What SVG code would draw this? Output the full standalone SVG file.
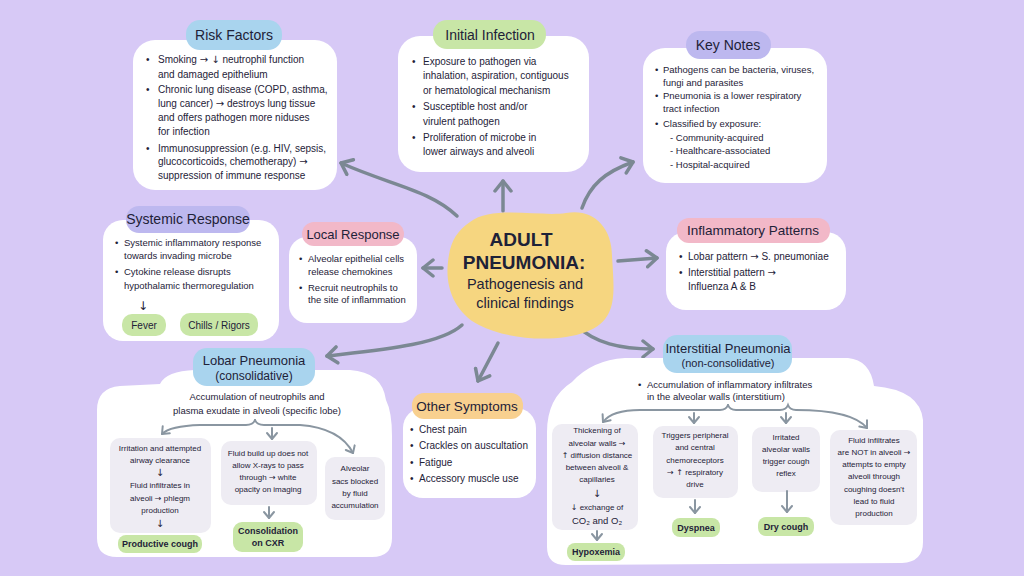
<svg xmlns="http://www.w3.org/2000/svg" width="1024" height="576" viewBox="0 0 1024 576">
<style>
text{font-family:"Liberation Sans","DejaVu Sans",sans-serif;fill:#1e2238}
.ar{font-family:"DejaVu Sans",sans-serif;fill:#1e2238}
.b{font-size:10px}
.s{font-size:8px;text-anchor:middle}
.h{font-size:14px;text-anchor:middle}
.m{text-anchor:middle}
.box{fill:#ffffff}
.in{fill:#eeecf3}
.blue{fill:#a9d4ee}
.green{fill:#c8e6a6}
.lav{fill:#bdb8ef}
.pink{fill:#f2b8c8}
.orange{fill:#f8d08f}
.pill{font-size:9px;font-weight:bold;text-anchor:middle}
.conn{fill:none;stroke:#7b8893;stroke-width:3.5;stroke-linecap:round}
.sub{fill:none;stroke:#8a96a1;stroke-width:2;stroke-linecap:round}
</style>
<defs>
<marker id="ah" markerUnits="userSpaceOnUse" markerWidth="20" markerHeight="20" viewBox="-12 -10 20 20" refX="0" refY="0" orient="auto">
<polyline points="-10,-8 0,0 -10,8" fill="none" stroke="#7b8893" stroke-width="3.5" stroke-linecap="round" stroke-linejoin="round"/>
</marker>
<marker id="sh" markerUnits="userSpaceOnUse" markerWidth="14" markerHeight="14" viewBox="-8 -7 14 14" refX="0" refY="0" orient="auto">
<polyline points="-6,-5 0,0 -6,5" fill="none" stroke="#8a96a1" stroke-width="2" stroke-linecap="round" stroke-linejoin="round"/>
</marker>
</defs>
<rect width="1024" height="576" fill="#d7c9f6"/>

<g id="connectors">
<path class="conn" d="M457,216 C430,190 390,185 341,163" marker-end="url(#ah)"/>
<path class="conn" d="M503,211 L503,181" marker-end="url(#ah)"/>
<path class="conn" d="M582,208 C590,185 605,172 633,162" marker-end="url(#ah)"/>
<path class="conn" d="M442,268 L423,268" marker-end="url(#ah)"/>
<path class="conn" d="M618,261 L657,258" marker-end="url(#ah)"/>
<path class="conn" d="M462,325 C440,345 380,350 327,356" marker-end="url(#ah)"/>
<path class="conn" d="M498,343 L478,381" marker-end="url(#ah)"/>
<path class="conn" d="M577,326 C595,343 620,349 653,349" marker-end="url(#ah)"/>
</g>

<g id="risk-factors">
<rect class="box" x="133" y="40" width="204" height="150" rx="22"/>
<rect class="blue" x="186" y="20" width="96" height="30" rx="14"/>
<text class="h" x="234" y="40">Risk Factors</text>
<text class="b"><tspan x="146" y="63">•</tspan><tspan x="158" y="63">Smoking <tspan class="ar">→ ↓</tspan> neutrophil function</tspan><tspan x="158" y="78">and damaged epithelium</tspan><tspan x="146" y="93">•</tspan><tspan x="158" y="93">Chronic lung disease (COPD, asthma,</tspan><tspan x="158" y="107">lung cancer) <tspan class="ar">→</tspan> destroys lung tissue</tspan><tspan x="158" y="121">and offers pathogen more niduses</tspan><tspan x="158" y="135">for infection</tspan><tspan x="146" y="152">•</tspan><tspan x="158" y="152">Immunosuppression (e.g. HIV, sepsis,</tspan><tspan x="158" y="165">glucocorticoids, chemotherapy) <tspan class="ar">→</tspan></tspan><tspan x="158" y="179">suppression of immune response</tspan></text>
</g>

<g id="initial-infection">
<rect class="box" x="398" y="36" width="191" height="136" rx="22"/>
<rect class="green" x="433" y="20" width="113" height="29" rx="14"/>
<text class="h" x="490" y="40">Initial Infection</text>
<text class="b"><tspan x="412" y="65">•</tspan><tspan x="423" y="65">Exposure to pathogen via</tspan><tspan x="423" y="79">inhalation, aspiration, contiguous</tspan><tspan x="423" y="94">or hematological mechanism</tspan><tspan x="412" y="110">•</tspan><tspan x="423" y="110">Susceptible host and/or</tspan><tspan x="423" y="125">virulent pathogen</tspan><tspan x="412" y="141">•</tspan><tspan x="423" y="141">Proliferation of microbe in</tspan><tspan x="423" y="155">lower airways and alveoli</tspan></text>
</g>

<g id="key-notes">
<rect class="box" x="643" y="48" width="184" height="135" rx="22"/>
<rect class="lav" x="686" y="31" width="85" height="28" rx="14"/>
<text class="h" x="728" y="50">Key Notes</text>
<text class="b" style="font-size:9.5px"><tspan x="655" y="73">•</tspan><tspan x="663" y="73">Pathogens can be bacteria, viruses,</tspan><tspan x="663" y="86">fungi and parasites</tspan><tspan x="655" y="99">•</tspan><tspan x="663" y="99">Pneumonia is a lower respiratory</tspan><tspan x="663" y="112">tract infection</tspan><tspan x="655" y="127">•</tspan><tspan x="663" y="127">Classified by exposure:</tspan><tspan x="670" y="141">- Community-acquired</tspan><tspan x="670" y="154">- Healthcare-associated</tspan><tspan x="670" y="168">- Hospital-acquired</tspan></text>
</g>

<g id="systemic-response">
<rect class="box" x="103" y="220" width="176" height="121" rx="20"/>
<rect class="lav" x="126" y="206" width="124" height="27" rx="13"/>
<text class="h" x="188" y="224">Systemic Response</text>
<text class="b" style="font-size:9.5px"><tspan x="115" y="246">•</tspan><tspan x="124" y="246">Systemic inflammatory response</tspan><tspan x="124" y="259">towards invading microbe</tspan><tspan x="115" y="275">•</tspan><tspan x="124" y="275">Cytokine release disrupts</tspan><tspan x="124" y="289">hypothalamic thermoregulation</tspan></text>
<text x="143" y="310" style="font-size:12px" class="m ar">↓</text>
<rect class="green" x="122" y="314" width="44" height="22" rx="10"/>
<text x="144" y="329" class="m" style="font-size:10px">Fever</text>
<rect class="green" x="180" y="313" width="78" height="23" rx="10"/>
<text x="219" y="329" class="m" style="font-size:10px">Chills / Rigors</text>
</g>

<g id="local-response">
<rect class="box" x="289" y="237" width="128" height="86" rx="18"/>
<rect class="pink" x="302" y="222" width="102" height="24" rx="12"/>
<text class="h" x="353" y="239" style="font-size:13px">Local Response</text>
<text class="b" style="font-size:9.5px"><tspan x="299" y="262">•</tspan><tspan x="308" y="262">Alveolar epithelial cells</tspan><tspan x="308" y="275">release chemokines</tspan><tspan x="299" y="291">•</tspan><tspan x="308" y="291">Recruit neutrophils to</tspan><tspan x="308" y="303">the site of inflammation</tspan></text>
</g>

<g id="center">
<path d="M470,222 C492,205 540,217 566,213 C592,208 612,226 612,256 C614,292 619,320 586,332 C556,343 508,340 479,325 C454,312 445,286 448,262 C450,242 456,232 470,222 Z" fill="#f6d680"/>
<text class="m" x="521" y="246" style="font-size:19px;font-weight:bold">ADULT</text>
<text class="m" x="524" y="269" style="font-size:19px;font-weight:bold">PNEUMONIA:</text>
<text class="m" x="525" y="289" style="font-size:14.5px">Pathogenesis and</text>
<text class="m" x="525" y="308" style="font-size:14.5px">clinical findings</text>
</g>

<g id="inflammatory-patterns">
<rect class="box" x="666" y="232" width="180" height="78" rx="20"/>
<rect class="pink" x="677" y="218" width="153" height="25" rx="12"/>
<text class="h" x="753" y="235" style="font-size:13.5px">Inflammatory Patterns</text>
<text class="b"><tspan x="679" y="260">•</tspan><tspan x="688" y="260">Lobar pattern <tspan class="ar">→</tspan> S. pneumoniae</tspan><tspan x="679" y="276">•</tspan><tspan x="688" y="276">Interstitial pattern <tspan class="ar">→</tspan></tspan><tspan x="688" y="290">Influenza A &amp; B</tspan></text>
</g>

<g id="lobar-pneumonia">
<path class="box" d="M97,410 Q97,388 120,386 L160,384 Q166,371 195,370 L350,370 Q382,372 386,400 Q392,412 392,436 L392,538 Q392,557 372,557 L117,557 Q97,557 97,538 Z"/>
<rect class="blue" x="193" y="348" width="122" height="38" rx="14"/>
<text class="h" x="254" y="365" style="font-size:13px">Lobar Pneumonia</text>
<text class="h" x="254" y="380" style="font-size:12px">(consolidative)</text>
<text class="m" style="font-size:9.5px"><tspan x="257" y="400">Accumulation of neutrophils and</tspan><tspan x="257" y="414">plasma exudate in alveoli (specific lobe)</tspan></text>
<path class="sub" d="M255,420 Q253,425 246,425 L200,425 Q170,426 162,434" marker-end="url(#sh)"/>
<path class="sub" d="M255,420 Q257,425 264,425 L300,425 Q340,428 353,453" marker-end="url(#sh)"/>
<path class="sub" d="M272,428 L272,439" marker-end="url(#sh)"/>
<rect class="in" x="110" y="438" width="101" height="95" rx="10"/>
<text class="s"><tspan x="160" y="451">Irritation and attempted</tspan><tspan x="160" y="463">airway clearance</tspan><tspan x="160" y="476" class="ar" style="font-size:10px">↓</tspan><tspan x="160" y="488">Fluid infiltrates in</tspan><tspan x="160" y="501">alveoli <tspan class="ar">→</tspan> phlegm</tspan><tspan x="160" y="513">production</tspan><tspan x="160" y="527" class="ar" style="font-size:10px">↓</tspan></text>
<rect class="green" x="118" y="535" width="84" height="18" rx="8"/>
<text class="pill" x="160" y="547">Productive cough</text>
<rect class="in" x="221" y="441" width="96" height="64" rx="10"/>
<text class="s"><tspan x="268" y="456">Fluid build up does not</tspan><tspan x="268" y="468">allow X-rays to pass</tspan><tspan x="268" y="480">through <tspan class="ar">→</tspan> white</tspan><tspan x="268" y="492">opacity on imaging</tspan></text>
<path class="sub" d="M269,507 L269,518" marker-end="url(#sh)"/>
<rect class="green" x="233" y="522" width="70" height="30" rx="9"/>
<text class="pill" x="268" y="534">Consolidation</text>
<text class="pill" x="268" y="546">on CXR</text>
<rect class="in" x="325" y="457" width="60" height="63" rx="10"/>
<text class="s"><tspan x="355" y="471">Alveolar</tspan><tspan x="355" y="484">sacs blocked</tspan><tspan x="355" y="496">by fluid</tspan><tspan x="355" y="508">accumulation</tspan></text>
</g>

<g id="other-symptoms">
<rect class="box" x="403" y="408" width="133" height="90" rx="20"/>
<rect class="orange" x="412" y="393" width="111" height="26" rx="12"/>
<text class="h" x="467" y="411" style="font-size:13.5px">Other Symptoms</text>
<text class="b"><tspan x="410" y="433">•</tspan><tspan x="419" y="433">Chest pain</tspan><tspan x="410" y="449">•</tspan><tspan x="419" y="449">Crackles on auscultation</tspan><tspan x="410" y="466">•</tspan><tspan x="419" y="466">Fatigue</tspan><tspan x="410" y="482">•</tspan><tspan x="419" y="482">Accessory muscle use</tspan></text>
</g>

<g id="interstitial-pneumonia">
<path class="box" d="M547,432 Q547,398 572,382 Q592,360 625,358 L848,358 Q870,360 874,386 Q920,390 923,420 L923,542 Q923,562 902,563 L566,565 Q547,565 547,547 Z"/>
<rect class="blue" x="663" y="335" width="129" height="38" rx="14"/>
<text class="h" x="728" y="353" style="font-size:13px">Interstitial Pneumonia</text>
<text class="h" x="728" y="367" style="font-size:11px">(non-consolidative)</text>
<text style="font-size:9.5px"><tspan x="638" y="388">•</tspan><tspan x="647" y="388">Accumulation of inflammatory infiltrates</tspan><tspan x="647" y="400">in the alveolar walls (interstitium)</tspan></text>
<path class="sub" d="M728,405 Q726,410 720,410 L640,410 Q612,410 603,422" marker-end="url(#sh)"/>
<path class="sub" d="M728,405 Q730,410 736,410 L780,410 Q786,410 788,405 Q790,410 796,410 Q852,410 867,428" marker-end="url(#sh)"/>
<path class="sub" d="M694,413 L694,423" marker-end="url(#sh)"/>
<path class="sub" d="M786,413 L786,423" marker-end="url(#sh)"/>
<rect class="in" x="552" y="424" width="86" height="106" rx="10"/>
<text class="s"><tspan x="597" y="433">Thickening of</tspan><tspan x="597" y="446">alveolar walls <tspan class="ar">→</tspan></tspan><tspan x="597" y="458"><tspan class="ar">↑</tspan> diffusion distance</tspan><tspan x="597" y="470">between alveoli &amp;</tspan><tspan x="597" y="482">capillaries</tspan><tspan x="597" y="497" class="ar" style="font-size:10px">↓</tspan><tspan x="597" y="510"><tspan class="ar">↓</tspan> exchange of</tspan><tspan x="597" y="524" style="font-size:9.5px">CO₂ and O₂</tspan></text>
<path class="sub" d="M597,531 L597,540" marker-end="url(#sh)"/>
<rect class="green" x="567" y="543" width="58" height="18" rx="8"/>
<text class="pill" x="596" y="555">Hypoxemia</text>
<rect class="in" x="653" y="426" width="85" height="72" rx="10"/>
<text class="s"><tspan x="695" y="438">Triggers peripheral</tspan><tspan x="695" y="450">and central</tspan><tspan x="695" y="463">chemoreceptors</tspan><tspan x="695" y="475"><tspan class="ar">→ ↑</tspan> respiratory</tspan><tspan x="695" y="487">drive</tspan></text>
<path class="sub" d="M695,500 L695,513" marker-end="url(#sh)"/>
<rect class="green" x="672" y="518" width="48" height="19" rx="8"/>
<text class="pill" x="696" y="531">Dyspnea</text>
<rect class="in" x="752" y="427" width="68" height="65" rx="10"/>
<text class="s"><tspan x="786" y="440">Irritated</tspan><tspan x="786" y="452">alveolar walls</tspan><tspan x="786" y="464">trigger cough</tspan><tspan x="786" y="476">reflex</tspan></text>
<path class="sub" d="M787,491 L787,512" marker-end="url(#sh)"/>
<rect class="green" x="758" y="517" width="56" height="19" rx="8"/>
<text class="pill" x="786" y="530">Dry cough</text>
<rect class="in" x="830" y="430" width="87" height="95" rx="10"/>
<text class="s"><tspan x="874" y="443">Fluid infiltrates</tspan><tspan x="874" y="455">are NOT in alveoli <tspan class="ar">→</tspan></tspan><tspan x="874" y="467">attempts to empty</tspan><tspan x="874" y="479">alveoli through</tspan><tspan x="874" y="492">coughing doesn't</tspan><tspan x="874" y="504">lead to fluid</tspan><tspan x="874" y="516">production</tspan></text>
</g>
</svg>
